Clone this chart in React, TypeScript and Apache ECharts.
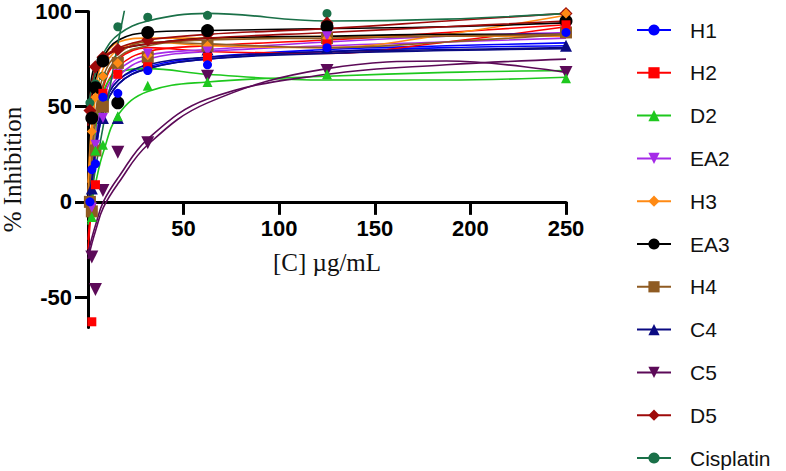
import React, { useEffect, useRef } from 'react';
import * as echarts from 'echarts';

// Concentrations (µg/mL) of the measured points
const conc = [1, 2, 3.9, 7.8, 15.6, 31.25, 62.5, 125, 250];
const fitX = [0, 2, 4, 8, 16, 31.25, 62.5, 125, 187.5, 250];

const yTicks = [-50, 0, 50, 100];

const names = ['H1', 'H2', 'D2', 'EA2', 'H3', 'EA3', 'H4', 'C4', 'C5', 'D5', 'Cisplatin'];

// measured % inhibition
const h1 = [0, 17, 20, 55, 57, 69, 72, 81, 89];
const h2 = [null, -63, 9, 57, 67, 71, 76, 83, 93];
const d2 = [null, -8, 27, 30, 45, 61, 63, 67, 65];
const ea2 = [null, -3, 30, 44, 67, 78, 79, 87, 90];
const h3 = [null, 37, 55, 66, 73, 77, 82, 86, 99];
const ea3 = [null, 44, 60, 74, 52, 89, 90, 92, 95];
const h4 = [0, -5, 27, 50, 73, 76, 82, 86, 89];
const c4 = [null, 7, null, 44, 44, 74, 80, 81, 82];
const c5 = [null, -29, -46, 6, 26, 31, 66, 69, 68];
const d5 = [48, null, 71, 76, 80, 85, 88, 94, 99];
const cisplatin = [52, null, 62, 66, 92, 97, 98, 99, 99];

// fitted curves (two per compound), read at fitX
const h1FitA = [-3, 12, 30, 50, 64, 71, 76, 80, 82, 83.5];
const h1FitB = [-6, 8, 26, 47, 62, 70, 75, 79, 81, 82];
const h2FitA = [-25, 0, 28, 56, 71, 79, 82, 85, 89, 93];
const h2FitB = [-20, 5, 32, 60, 75, 81, 79, 78, 84, 92];
const d2FitA = [-8, 10, 35, 58, 68, 70, 67, 64, 64, 65.5];
const d2FitB = [-12, 0, 10, 26, 46, 58, 63, 66, 68, 69];
const ea2FitA = [-4, 12, 32, 54, 69, 77, 80, 84, 87, 89];
const ea2FitB = [-7, 8, 28, 50, 66, 75, 79, 82, 84, 86];
const h3FitA = [5, 36, 55, 70, 80, 84, 82, 81, 88, 98];
const h3FitB = [10, 42, 60, 75, 84, 86, 86, 87, 87, 87];
const ea3FitA = [40, 55, 65, 76, 85, 89, 90, 91, 92, 94];
const ea3FitB = [50, 66, 72, 76, 80, 83, 86, 87, 88, 88];
const h4FitA = [-2, 25, 47, 66, 78, 84, 83, 81, 84, 88];
const h4FitB = [-5, 20, 42, 62, 76, 82, 85, 86, 87, 88];
const c4FitA = [0, 12, 30, 50, 64, 72, 76, 79, 80, 81];
const c4FitB = [-3, 8, 27, 47, 62, 70, 75, 78, 79.5, 80.5];
const c5FitA = [-27, -19, -12, 0, 13, 33, 54, 67, 72, 75];
const c5FitB = [-30, -22, -15, -3, 10, 30, 52, 70, 74, 68];
const d5FitA = [45, 62, 70, 76, 81, 85, 88, 91, 95, 99];
const d5FitB = [40, 58, 68, 75, 80, 83, 86, 89, 92, 95];
const cisFitA = [-5, 5, 18, 40, 85, 160, null, null, null, null];
const cisFitB = [50, 60, 68, 78, 88, 95, 99, 95, 96, 99];

const styles: Record<string, { color: string; symbol: string; size: number; rotate?: number }> = {
  H1: { color: '#0000ff', symbol: 'circle', size: 9 },
  H2: { color: '#ff0000', symbol: 'rect', size: 9 },
  D2: { color: '#1ec81e', symbol: 'triangle', size: 10 },
  EA2: { color: '#a52ae8', symbol: 'triangle', size: 10, rotate: 180 },
  H3: { color: '#ff8a14', symbol: 'diamond', size: 10 },
  EA3: { color: '#000000', symbol: 'circle', size: 13 },
  H4: { color: '#8f5b22', symbol: 'rect', size: 12 },
  C4: { color: '#0a0a82', symbol: 'triangle', size: 12 },
  C5: { color: '#5c0a58', symbol: 'triangle', size: 13, rotate: 180 },
  D5: { color: '#9e0a0a', symbol: 'diamond', size: 13 },
  Cisplatin: { color: '#1a7048', symbol: 'circle', size: 9 },
};

const points: Record<string, (number | null)[]> = {
  H1: h1, H2: h2, D2: d2, EA2: ea2, H3: h3, EA3: ea3, H4: h4, C4: c4, C5: c5, D5: d5, Cisplatin: cisplatin,
};
const fits: Record<string, (number | null)[][]> = {
  H1: [h1FitA, h1FitB], H2: [h2FitA, h2FitB], D2: [d2FitA, d2FitB], EA2: [ea2FitA, ea2FitB],
  H3: [h3FitA, h3FitB], EA3: [ea3FitA, ea3FitB], H4: [h4FitA, h4FitB], C4: [c4FitA, c4FitB],
  C5: [c5FitA, c5FitB], D5: [d5FitA, d5FitB], Cisplatin: [cisFitA, cisFitB],
};

const pairs = (xs: number[], ys: (number | null)[]) =>
  xs.map((x, i) => [x, ys[i]]).filter((p) => p[1] !== null && p[1] !== undefined);

const Y_MIN = -66;
const Y_MAX = 100;
const GRID_TOP = 11.5;
const GRID_H = 316;
// distance from the bottom of the grid up to the y = 0 line
const zeroOffset = (GRID_H * (0 - Y_MIN)) / (Y_MAX - Y_MIN);

function buildOption() {
  const series: any[] = [];
  names.forEach((n) => {
    const s = styles[n];
    fits[n].forEach((f) => {
      series.push({
        type: 'line',
        name: n,
        data: pairs(fitX, f),
        smooth: 0.4,
        showSymbol: false,
        symbol: s.symbol,
        symbolRotate: s.rotate || 0,
        lineStyle: { color: s.color, width: 1.6 },
        itemStyle: { color: s.color },
        clip: true,
        z: 2,
        silent: true,
      });
    });
  });
  [...names].reverse().forEach((n) => {
    const s = styles[n];
    series.push({
      type: 'scatter',
      name: n,
      data: pairs(conc, points[n]),
      symbol: s.symbol,
      symbolSize: s.size,
      symbolRotate: s.rotate || 0,
      itemStyle: { color: s.color, opacity: 1 },
      z: 3,
      clip: false,
    });
  });

  return {
    animation: false,
    backgroundColor: '#ffffff',
    grid: {
      left: 88,
      top: GRID_TOP,
      width: 478,
      height: GRID_H,
      containLabel: false,
      outerBoundsMode: 'none',
    },
    legend: {
      orient: 'vertical',
      left: 636,
      top: 19.5,
      height: 452,
      padding: 0,
      itemWidth: 34,
      itemHeight: 14,
      itemGap: 21.8,
      data: names,
      textStyle: {
        fontFamily: 'Arial, "Liberation Sans", sans-serif',
        fontSize: 21,
        lineHeight: 21,
        color: '#111',
        padding: [0, 0, 0, 14],
      },
    },
    xAxis: {
      type: 'value',
      position: 'bottom',
      offset: -zeroOffset,
      min: 0,
      max: 250,
      interval: 50,
      name: '[C] µg/mL',
      nameLocation: 'middle',
      nameGap: 48,
      nameTextStyle: { fontFamily: '"Liberation Serif", "Times New Roman", serif', fontSize: 25, color: '#111' },
      axisLine: { show: true, onZero: false, lineStyle: { color: '#000', width: 3 } },
      axisTick: { show: true, length: 13, lineStyle: { color: '#000', width: 3 } },
      axisLabel: {
        margin: 16,
        fontFamily: 'Arial, "Liberation Sans", sans-serif',
        fontWeight: 'bold',
        fontSize: 22,
        color: '#000',
        formatter: (v: number) => (v === 0 ? '' : String(v)),
      },
      splitLine: { show: false },
    },
    yAxis: {
      type: 'value',
      min: Y_MIN,
      max: Y_MAX,
      name: '% Inhibition',
      nameLocation: 'middle',
      nameRotate: 90,
      nameGap: 63,
      nameMoveOverlap: false,
      nameTextStyle: { fontFamily: '"Liberation Serif", "Times New Roman", serif', fontSize: 25, color: '#111' },
      axisLine: { show: true, onZero: false, lineStyle: { color: '#000', width: 3 } },
      axisTick: { show: true, length: 13, lineStyle: { color: '#000', width: 3 }, customValues: yTicks },
      axisLabel: {
        margin: 16,
        fontFamily: 'Arial, "Liberation Sans", sans-serif',
        fontWeight: 'bold',
        fontSize: 22,
        lineHeight: 18,
        color: '#000',
        customValues: yTicks,
      },
      splitLine: { show: false },
    },
    series,
  };
}

export default function App() {
  const ref = useRef<HTMLDivElement>(null);
  useEffect(() => {
    if (!ref.current) return;
    const chart = echarts.init(ref.current, null, { renderer: 'svg' });
    chart.setOption(buildOption() as any);
    return () => chart.dispose();
  }, []);
  return (
    <div
      ref={ref}
      style={{ position: 'fixed', left: 0, top: 0, width: 786, height: 471, background: '#fff' }}
    />
  );
}
